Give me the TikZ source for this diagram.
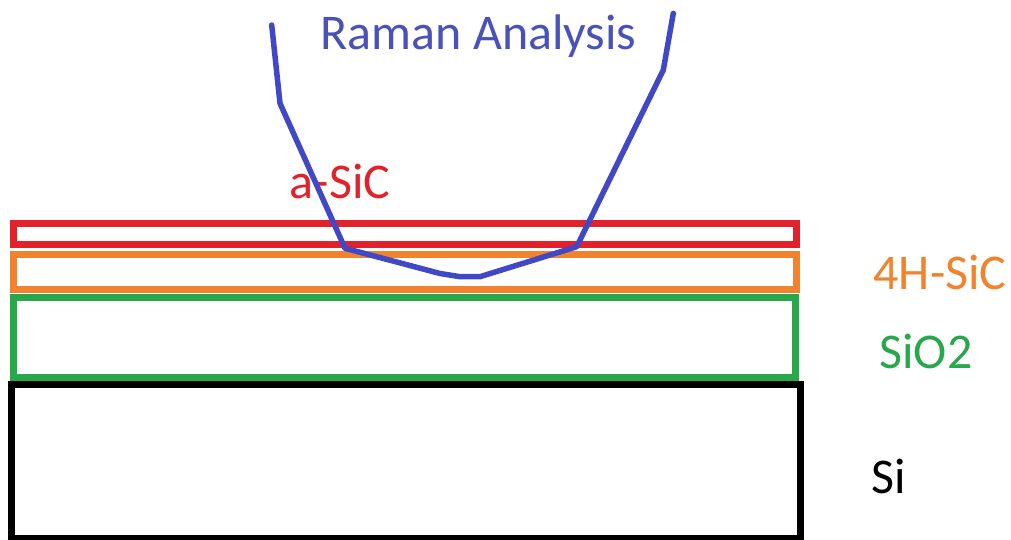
\documentclass[tikz,border=0pt]{standalone}
\usepackage{fontspec}
\setmainfont{Carlito}
\definecolor{layerred}{HTML}{E2222A}
\definecolor{layerorange}{HTML}{F2832E}
\definecolor{layergreen}{HTML}{27A84A}
\definecolor{probeblue}{HTML}{4048C8}
\definecolor{titleblue}{HTML}{4A52B8}
\begin{document}
\begin{tikzpicture}[x=1pt,y=-1pt,
  layer/.style={draw, line width=7pt, inner sep=0pt, outer sep=0pt, anchor=north west},
  tag/.style={font=\fontsize{50}{50}\selectfont, inner sep=0pt, anchor=base},
  probe/.style={draw=probeblue, line width=5.5pt, line join=round, line cap=round}]
  \useasboundingbox (0,0) rectangle (1011,540);
  \fill[white] (0,0) rectangle (1011,540);

  % layer stack
  \node[layer, draw=black, minimum width=789pt, minimum height=154pt] (si) at (11,384) {};
  \node[layer, draw=layergreen, minimum width=782pt, minimum height=79.5pt] (sio2) at (13,297.5) {};
  \node[layer, draw=layerorange, minimum width=783.5pt, minimum height=35pt] (hsic) at (13,254.5) {};
  \node[layer, draw=layerred, minimum width=783.5pt, minimum height=20.5pt] (asic) at (13,223.5) {};

  % layer names
  \node[tag, text=layerred] (asiclabel) at (340,198) {a-SiC};
  \node[tag, text=layerorange] (hsiclabel) at (940,289) {4H-SiC};
  \node[tag, text=layergreen] (sio2label) at (926,368) {SiO2};
  \node[tag, text=black] (silabel) at (889,493) {Si};
  \node[tag, text=titleblue] (title) at (478.5,50) {Raman Analysis};

  % Raman probe outline
  \draw[probe] (271.7,25) -- (280,103.3) -- (345,248.3) -- (440,273.5)
    -- (460,276.7) -- (480,276.7) -- (576.7,246.7) -- (663.3,70) -- (673.3,13.3);
\end{tikzpicture}
\end{document}
